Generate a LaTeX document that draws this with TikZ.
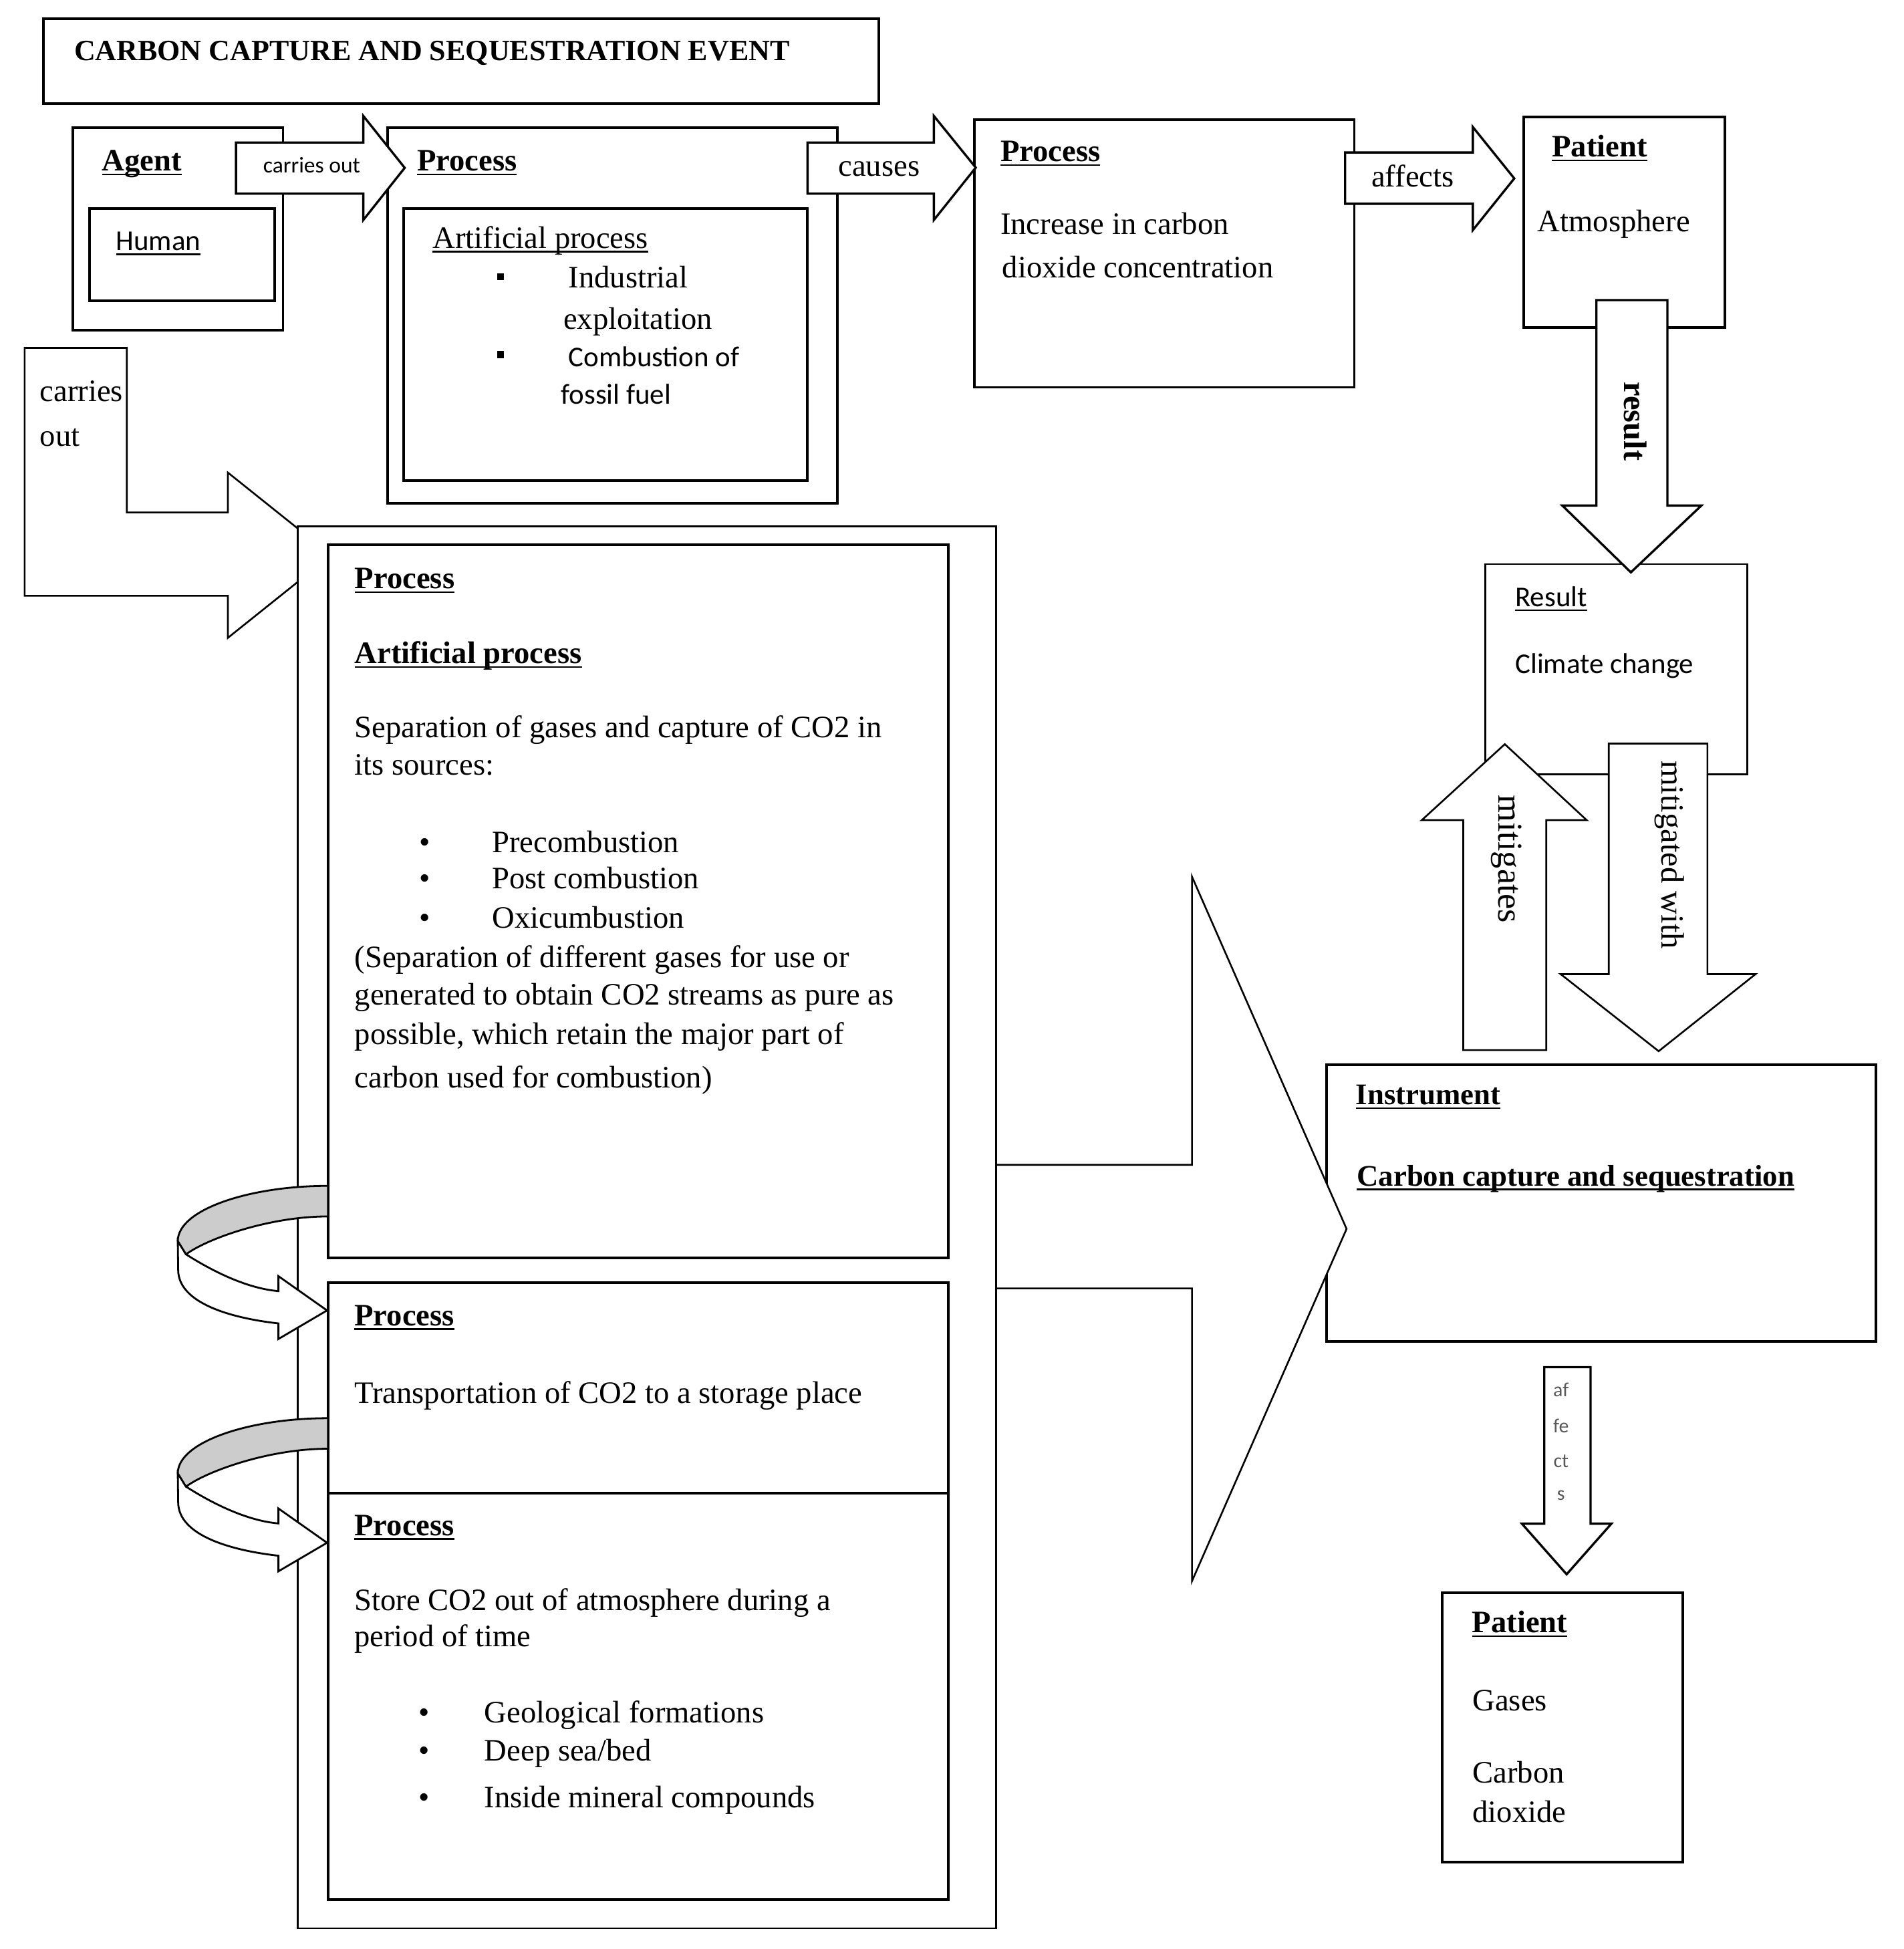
\documentclass[tikz,border=0pt]{standalone}
\usepackage{fontspec}
\setmainfont{Liberation Serif}
\newfontfamily\sansf{Carlito}
\newcommand{\ulx}[1]{\setbox0\hbox{#1}\rlap{\rule[-3.5pt]{\wd0}{1.3pt}}\box0}
\newcommand{\curvarr}[1]{%
\begin{scope}[shift={(0,#1)}]
 \draw[line width=1.5pt, fill=white, line join=miter] (149.2,1005.9) .. controls (165,1016) and (195,1033) .. (223.3,1035.4) -- (223.3,1023.4) -- (262.3,1050.9) -- (223.3,1073.8) -- (223.3,1061.3) .. controls (185,1057) and (143,1045) .. (142.9,1018.4) -- (142.6,995.2) -- cycle;
 \draw[line width=1.5pt, fill=black!20, line join=round] (263,951) .. controls (200,951) and (142.6,970) .. (142.6,995.2) -- (149.2,1005.9) .. controls (165,994) and (215,975.5) .. (263,975.5) -- cycle;
\end{scope}}
\tikzset{
  bx/.style={draw, line width=2.1pt, fill=white, inner sep=0pt, outer sep=0pt, anchor=north west},
  bxthin/.style={bx, line width=1.5pt},
  blk/.style={draw, line width=1.8pt, fill=white, line join=miter},
  blkthin/.style={blk, line width=1.4pt},
  t/.style={anchor=base west, inner sep=0pt, outer sep=0pt, font=\fontsize{25}{30}\selectfont},
  tb/.style={t, font=\fontsize{25}{30}\selectfont\bfseries},
  ts/.style={t, font=\fontsize{23}{28}\selectfont\sansf},
  tc/.style={anchor=base, inner sep=0pt, outer sep=0pt, font=\fontsize{25}{30}\selectfont},
  rot/.style={rotate=-90, inner sep=0pt, outer sep=0pt},
  sqb/.style={fill=black, minimum size=5.5pt, inner sep=0pt},
  afl/.style={anchor=base, inner sep=0pt, font=\fontsize{16}{18}\selectfont\sansf, text=black!65},
}
\begin{document}
\begin{tikzpicture}[x=1pt,y=-1pt]
\useasboundingbox (0,0) rectangle (1527,1563);
\fill[white] (0,0) rectangle (1527,1563);

% top row boxes
\node[bx, minimum width=670pt, minimum height=68pt] (title) at (35,15) {};
\node[bx, minimum width=168.5pt, minimum height=162.1pt] (agent) at (58.5,102.6) {};
\node[bx, minimum width=148.5pt, minimum height=73.8pt] (human) at (72,167.4) {};
\node[bx, minimum width=360.5pt, minimum height=300.8pt] (proc1) at (311,102.6) {};
\node[bx, minimum width=324.1pt, minimum height=218.2pt] (proc1in) at (323.6,167.4) {};
\node[bx, minimum width=304.6pt, minimum height=214.6pt] (proc2) at (781.6,96) {};
\node[bx, minimum width=161.4pt, minimum height=168.8pt] (pat1) at (1222,94) {};

% top arrows
\draw[blk] (189.3,114.3) -- (291.4,114.3) -- (291.4,93) -- (324.6,134.6) -- (291.4,176.4) -- (291.4,155.3) -- (189.3,155.3) -- cycle;
\draw[blk] (647.7,114.3) -- (749,114.3) -- (749,93) -- (782.6,134.4) -- (749,176.4) -- (749,155.3) -- (647.7,155.3) -- cycle;
\draw[blk] (1078.8,122.3) -- (1181.3,122.3) -- (1181.3,101.9) -- (1214.5,143.1) -- (1181.3,184.5) -- (1181.3,163.4) -- (1078.8,163.4) -- cycle;

% result column
\node[bxthin, minimum width=210.1pt, minimum height=168.4pt] (result) at (1191.3,452.4) {};
\draw[blk] (1280.4,240.7) -- (1337.3,240.7) -- (1337.3,405.4) -- (1364.6,405.4) -- (1308,459) -- (1253,405.4) -- (1280.4,405.4) -- cycle;
\draw[blkthin] (1173.6,842.1) -- (1240.2,842.1) -- (1240.2,657.7) -- (1272.6,657.7) -- (1206.9,596.8) -- (1140.3,657.7) -- (1173.6,657.7) -- cycle;
\draw[blkthin] (1290.3,596.3) -- (1369.4,596.3) -- (1369.4,781.2) -- (1408,781.2) -- (1330.3,843) -- (1251.7,781.2) -- (1290.3,781.2) -- cycle;

% instrument
\node[bx, minimum width=440.9pt, minimum height=221.9pt] (instr) at (1063.9,854) {};
\draw[blkthin] (799,934.1) -- (956,934.1) -- (956,703) -- (1080,985.5) -- (956,1268) -- (956,1033.2) -- (799,1033.2);
\draw[blk] (1238.6,1096.4) -- (1275.7,1096.4) -- (1275.7,1221.9) -- (1292.4,1221.9) -- (1256.5,1262.5) -- (1220.6,1221.9) -- (1238.6,1221.9) -- cycle;
\node[bx, minimum width=193.1pt, minimum height=216pt] (pat2) at (1156.7,1277.3) {};

% left column
\draw[blkthin] (19.8,279) -- (101.7,279) -- (101.7,411) -- (182.8,411) -- (182.8,379) -- (265.6,445.25) -- (182.8,511.5) -- (182.8,477.8) -- (19.8,477.8) -- cycle;
\node[bxthin, minimum width=560.4pt, minimum height=1124.2pt] (outer) at (238.6,422.2) {};
\node[bx, minimum width=497.1pt, minimum height=572.1pt] (in1) at (263.3,436.9) {};
\node[bx, minimum width=497.1pt, minimum height=168.4pt] (in2) at (263.3,1028.8) {};
\node[bx, minimum width=497.1pt, minimum height=325.9pt] (in3) at (263.3,1197.2) {};
\curvarr{0}
\curvarr{186.3}

% texts
\node[tb, font=\fontsize{23.6}{28}\selectfont\bfseries] (ttitle) at (59.5,48.7) {CARBON CAPTURE AND SEQUESTRATION EVENT};
\node[tb] (tagent) at (82,137) {\ulx{Agent}};
\node[ts] (thuman) at (93,201) {\ulx{Human}};
\node[tc, font=\fontsize{18}{20}\selectfont\sansf] (tcarry) at (250,138.5) {carries out};
\node[tb] (tproc1) at (334.5,137) {\ulx{Process}};
\node[t] (tart1) at (347,199) {\ulx{Artificial process}};
\node[sqb] (sq1) at (401.4,222) {};
\node[sqb] (sq2) at (401.4,284.4) {};
\node[t] (tind) at (456,231) {Industrial};
\node[t] (texp) at (452,264) {exploitation};
\node[ts] (tcomb) at (456,294) {Combustion of};
\node[ts] (tfos) at (450,324) {fossil fuel};
\node[tc] (tcauses) at (705,141) {causes};
\node[tb] (tproc2) at (802.4,129.5) {\ulx{Process}};
\node[t] (tinc) at (802.4,188) {Increase in carbon};
\node[t] (tdiox) at (804,222.8) {dioxide concentration};
\node[tc] (taff) at (1133,149.8) {affects};
\node[tb] (tpat1) at (1244.7,125.9) {\ulx{Patient}};
\node[t] (tatm) at (1233.3,185.7) {Atmosphere};
\node[rot, font=\fontsize{26}{30}\selectfont\bfseries] (tres) at (1311.6,338) {result};
\node[ts] (tresult) at (1215.3,486.6) {\ulx{Result}};
\node[ts] (tclim) at (1215.3,540) {Climate change};
\node[rot, font=\fontsize{28}{30}\selectfont] (tmit) at (1208.2,689) {mitigates};
\node[rot, font=\fontsize{26}{30}\selectfont] (tmitw) at (1339,685.5) {mitigated with};
\node[tb, font=\fontsize{24}{30}\selectfont\bfseries] (tinstr) at (1087.4,885.7) {\ulx{Instrument}};
\node[tb, font=\fontsize{24}{30}\selectfont\bfseries] (tccs) at (1088.3,951) {\ulx{Carbon capture and sequestration}};
\node[afl] (taf1) at (1252,1120) {af};
\node[afl] (taf2) at (1252,1149) {fe};
\node[afl] (taf3) at (1252,1177) {ct};
\node[afl] (taf4) at (1252,1203) {s};
\node[tb] (tpat2) at (1180.7,1309.4) {\ulx{Patient}};
\node[t] (tgas) at (1181.1,1372) {Gases};
\node[t] (tcarb) at (1181.1,1430) {Carbon};
\node[t] (tdio) at (1181.1,1461.3) {dioxide};
\node[t] (tcar) at (32,322) {carries};
\node[t] (tout) at (32,358) {out};

% box 1 texts
\node[tb] (tp1) at (284.5,472) {\ulx{Process}};
\node[tb] (tap) at (284.5,532) {\ulx{Artificial process}};
\node[t] (ts1) at (284.5,591.5) {Separation of gases and capture of CO2 in};
\node[t] (ts2) at (284.5,621.3) {its sources:};
\node[tc] (b1) at (340.7,683.5) {\textbullet};
\node[tc] (b2) at (340.7,712.4) {\textbullet};
\node[tc] (b3) at (340.7,744.4) {\textbullet};
\node[t] (tpre) at (394.7,683.5) {Precombustion};
\node[t] (tpost) at (394.7,712.4) {Post combustion};
\node[t] (toxi) at (394.7,744.4) {Oxicumbustion};
\node[t] (tq1) at (284.5,776) {(Separation of different gases for use or};
\node[t] (tq2) at (284.5,805.7) {generated to obtain CO2 streams as pure as};
\node[t] (tq3) at (284.5,837.7) {possible, which retain the major part of};
\node[t] (tq4) at (284.5,872.4) {carbon used for combustion)};
% box 2
\node[tb] (tp2) at (284.3,1063) {\ulx{Process}};
\node[t] (ttr) at (284.3,1125.3) {Transportation of CO2 to a storage place};
% box 3
\node[tb] (tp3) at (284.3,1231.3) {\ulx{Process}};
\node[t] (tst1) at (284.3,1291.6) {Store CO2 out of atmosphere during a};
\node[t] (tst2) at (284.3,1320.7) {period of time};
\node[tc] (b4) at (340.3,1381.8) {\textbullet};
\node[tc] (b5) at (340.3,1412.1) {\textbullet};
\node[tc] (b6) at (340.3,1449.5) {\textbullet};
\node[t] (tgeo) at (388.6,1381.8) {Geological formations};
\node[t] (tdeep) at (388.6,1412.1) {Deep sea/bed};
\node[t] (tins) at (388.6,1449.5) {Inside mineral compounds};
\end{tikzpicture}
\end{document}
